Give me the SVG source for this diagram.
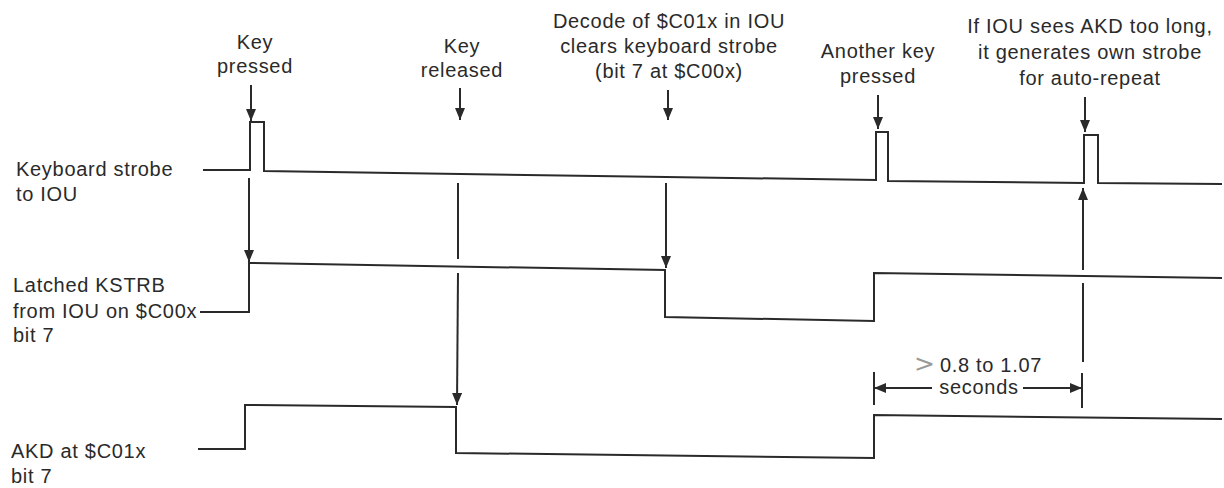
<svg xmlns="http://www.w3.org/2000/svg" width="1224" height="488" viewBox="0 0 1224 488">
<style>
text{font-family:"Liberation Sans",Arial,Helvetica,sans-serif;font-size:20px;fill:#2a2a2a;letter-spacing:0.7px}
.c{text-anchor:middle}
.w{fill:none;stroke:#2a2a2a;stroke-width:2;stroke-linejoin:miter}
.a{fill:none;stroke:#2a2a2a;stroke-width:2}
</style>
<defs>
<marker id="ah" viewBox="0 0 12 10" refX="12" refY="5" markerWidth="12" markerHeight="10" markerUnits="userSpaceOnUse" orient="auto">
<path d="M0,0 L12,5 L0,10 Z" fill="#2a2a2a"/>
</marker>
</defs>
<rect width="1224" height="488" fill="#fff"/>

<g id="label-key-pressed"><text class="c" x="255" y="49">Key</text><text class="c" x="255" y="73">pressed</text></g>
<g id="label-key-released"><text class="c" x="462" y="53">Key</text><text class="c" x="462" y="77">released</text></g>
<g id="label-decode"><text class="c" x="669" y="28">Decode of $C01x in IOU</text><text class="c" x="669" y="53">clears keyboard strobe</text><text class="c" x="669" y="78">(bit 7 at $C00x)</text></g>
<g id="label-another-key"><text class="c" x="878" y="58">Another key</text><text class="c" x="878" y="83">pressed</text></g>
<g id="label-auto-repeat"><text class="c" x="1090" y="33">If IOU sees AKD too long,</text><text class="c" x="1090" y="59">it generates own strobe</text><text class="c" x="1090" y="85">for auto-repeat</text></g>

<g id="strobe">
<text x="16" y="176">Keyboard strobe</text><text x="16" y="201">to IOU</text>
<path class="w" d="M203,170 L250,170 L250,122 L264,122 L264,171 L666,177 L876,180 L876,132 L888,132 L888,181 L1084,183 L1084,135 L1098,135 L1098,183 L1222,184"/>
</g>

<g id="latched">
<text x="13" y="292">Latched KSTRB</text><text x="13" y="318">from IOU on $C00x</text><text x="13" y="342">bit 7</text>
<path class="w" d="M200,312 L249,312 L249,263 L665,270 L665,317 L874,321 L874,273 L1222,278"/>
</g>

<g id="akd">
<text x="11" y="458">AKD at $C01x</text><text x="11" y="483">bit 7</text>
<path class="w" d="M198,449 L245,449 L245,405 L456,407 L456,453 L874,458 L874,415 L1222,419"/>
</g>

<g id="dimension">
<text x="914" y="372" style="fill:#999;font-size:25px;font-family:'DejaVu Sans',sans-serif;letter-spacing:0">&gt;</text>
<text x="991" y="372" class="c">0.8 to 1.07</text>
<text x="979" y="394" class="c">seconds</text>
</g>

<g id="connectors">
<path class="a" d="M251,85 L251,121" marker-end="url(#ah)"/>
<path class="a" d="M460,88 L460,120" marker-end="url(#ah)"/>
<path class="a" d="M668,90 L668,120" marker-end="url(#ah)"/>
<path class="a" d="M878,95 L878,129" marker-end="url(#ah)"/>
<path class="a" d="M1085,97 L1085,132" marker-end="url(#ah)"/>
<path class="a" d="M249,178 L249,262" marker-end="url(#ah)"/>
<path class="a" d="M666,183 L666,268" marker-end="url(#ah)"/>
<path class="a" d="M458,183 L458,259"/>
<path class="a" d="M458,273 L457,405" marker-end="url(#ah)"/>
<path class="a" d="M1083,270 L1083,188" marker-end="url(#ah)"/>
<path class="a" d="M1083,362 L1083,283"/>
<path class="a" d="M874,372 L874,405"/>
<path class="a" d="M1082,373 L1082,408"/>
<path class="a" d="M932,388 L874,388" marker-end="url(#ah)"/>
<path class="a" d="M1023,388 L1082,388" marker-end="url(#ah)"/>
</g>
</svg>
